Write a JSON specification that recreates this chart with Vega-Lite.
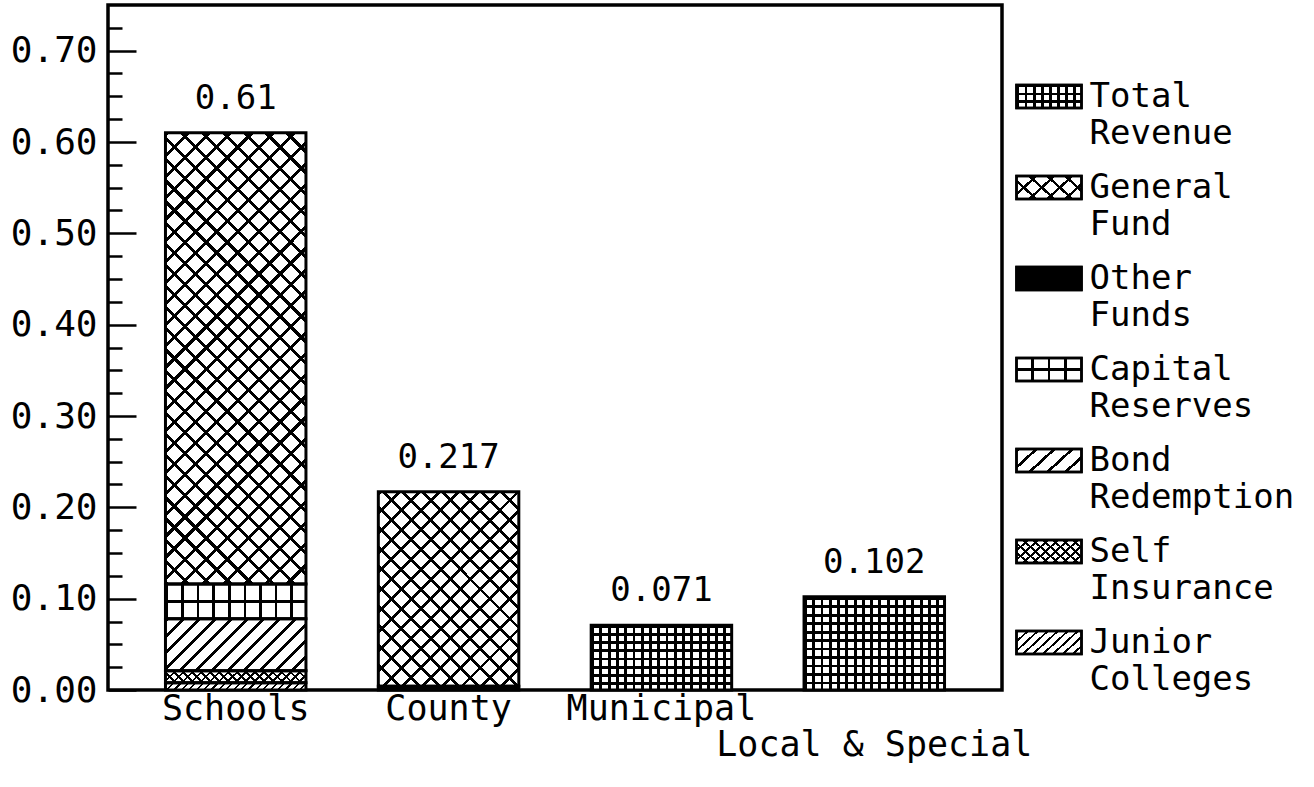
{
"$schema": "https://vega.github.io/schema/vega-lite/v6.json",
"autosize": {"type": "none"},
"padding": {"left": 108, "top": 5, "right": 312, "bottom": 97},
"width": 894,
"height": 685,
"background": "white",
"config": {"view": {"stroke": "#000", "strokeWidth": 3.5}, "font": "DejaVu Sans Mono"},
"data": {"values": [
 {"sector": "Schools", "category": "Junior Colleges", "value": 0.008},
 {"sector": "Schools", "category": "Self Insurance", "value": 0.013},
 {"sector": "Schools", "category": "Bond Redemption", "value": 0.057},
 {"sector": "Schools", "category": "Capital Reserves", "value": 0.038},
 {"sector": "Schools", "category": "General Fund", "value": 0.494},
 {"sector": "County", "category": "Other Funds", "value": 0.004},
 {"sector": "County", "category": "General Fund", "value": 0.213},
 {"sector": "Municipal", "category": "Total Revenue", "value": 0.071},
 {"sector": "Local & Special", "category": "Total Revenue", "value": 0.102}
]},
"transform": [
 {"calculate": "indexof(['Junior Colleges','Self Insurance','Bond Redemption','Capital Reserves','Other Funds','General Fund','Total Revenue'], datum.category)", "as": "ord"},
 {"calculate": "datum.category + ' (overlay)'", "as": "cat2"},
 {"stack": "value", "groupby": ["sector"], "sort": [{"field": "ord", "order": "ascending"}], "as": ["v0", "v1"]}
],
"encoding": {
 "x": {"field": "sector", "type": "nominal", "sort": ["Schools", "County", "Municipal", "Local & Special"],
   "scale": {"paddingInner": 0.34, "paddingOuter": 0.27},
   "axis": {"title": null, "ticks": false, "domain": false, "labelAngle": 0, "labelFont": "DejaVu Sans Mono", "labelFontSize": 35, "labelColor": "#000", "labelPadding": 1, "labelBaseline": "top", "labelLimit": 0, "labelOverlap": false, "labelLineHeight": 36,
     "labelExpr": "datum.label == 'Local & Special' ? ['', datum.label] : datum.label"}},
 "y": {"field": "v1", "type": "quantitative",
   "scale": {"domain": [0, 0.75], "nice": false, "zero": true},
   "axis": {"title": null, "domain": false, "grid": false,
     "values": [0,0.025,0.05,0.075,0.1,0.125,0.15,0.175,0.2,0.225,0.25,0.275,0.3,0.325,0.35,0.375,0.4,0.425,0.45,0.475,0.5,0.525,0.55,0.575,0.6,0.625,0.65,0.675,0.7,0.725],
     "tickColor": "#000", "tickWidth": 2.5,
     "tickSize": {"condition": {"test": "abs(datum.value*10 - round(datum.value*10)) < 0.001", "value": -28}, "value": -14},
     "labelExpr": "abs(datum.value*10 - round(datum.value*10)) < 0.001 ? format(datum.value, '.2f') : ''",
     "labelFont": "DejaVu Sans Mono", "labelFontSize": 36, "labelColor": "#000", "labelPadding": 39}}
},
"layer": [
 {
  "mark": {"type": "bar"},
  "encoding": {
   "y2": {"field": "v0"},
   "color": {
    "field": "category", "type": "nominal",
    "scale": {
     "domain": ["Total Revenue", "General Fund", "Other Funds", "Capital Reserves", "Bond Redemption", "Self Insurance", "Junior Colleges"],
     "range": [
      {"expr": "{gradient:'linear',x1:0,y1:0,x2:1,y2:0,stops:[{offset:0,color:'#000'},{offset:0.0438,color:'#000'},{offset:0.0438,color:'#fff'},{offset:0.125,color:'#fff'},{offset:0.125,color:'#000'},{offset:0.1688,color:'#000'},{offset:0.1688,color:'#fff'},{offset:0.25,color:'#fff'},{offset:0.25,color:'#000'},{offset:0.2938,color:'#000'},{offset:0.2938,color:'#fff'},{offset:0.375,color:'#fff'},{offset:0.375,color:'#000'},{offset:0.4188,color:'#000'},{offset:0.4188,color:'#fff'},{offset:0.5,color:'#fff'},{offset:0.5,color:'#000'},{offset:0.5438,color:'#000'},{offset:0.5438,color:'#fff'},{offset:0.625,color:'#fff'},{offset:0.625,color:'#000'},{offset:0.6688,color:'#000'},{offset:0.6688,color:'#fff'},{offset:0.75,color:'#fff'},{offset:0.75,color:'#000'},{offset:0.7938,color:'#000'},{offset:0.7938,color:'#fff'},{offset:0.875,color:'#fff'},{offset:0.875,color:'#000'},{offset:0.9188,color:'#000'},{offset:0.9188,color:'#fff'},{offset:1,color:'#fff'}]}"},
      {"expr": "{gradient:'linear',x1:0,y1:0,x2:1.2062,y2:0.4639,stops:[{offset:0,color:'#000'},{offset:0.04,color:'#000'},{offset:0.04,color:'#fff'},{offset:0.2,color:'#fff'},{offset:0.2,color:'#000'},{offset:0.24,color:'#000'},{offset:0.24,color:'#fff'},{offset:0.4,color:'#fff'},{offset:0.4,color:'#000'},{offset:0.44,color:'#000'},{offset:0.44,color:'#fff'},{offset:0.6,color:'#fff'},{offset:0.6,color:'#000'},{offset:0.64,color:'#000'},{offset:0.64,color:'#fff'},{offset:0.8,color:'#fff'},{offset:0.8,color:'#000'},{offset:0.84,color:'#000'},{offset:0.84,color:'#fff'},{offset:1,color:'#fff'}]}"},
      "#000",
      {"expr": "{gradient:'linear',x1:0,y1:0,x2:1,y2:0,stops:[{offset:0,color:'#fff'},{offset:0.23,color:'#fff'},{offset:0.23,color:'#000'},{offset:0.27,color:'#000'},{offset:0.27,color:'#fff'},{offset:0.48,color:'#fff'},{offset:0.48,color:'#000'},{offset:0.52,color:'#000'},{offset:0.52,color:'#fff'},{offset:0.73,color:'#fff'},{offset:0.73,color:'#000'},{offset:0.77,color:'#000'},{offset:0.77,color:'#fff'},{offset:1,color:'#fff'}]}"},
      {"expr": "{gradient:'linear',x1:0,y1:0,x2:1.2062,y2:0.4639,stops:[{offset:0,color:'#000'},{offset:0.044,color:'#000'},{offset:0.044,color:'#fff'},{offset:0.2,color:'#fff'},{offset:0.2,color:'#000'},{offset:0.244,color:'#000'},{offset:0.244,color:'#fff'},{offset:0.4,color:'#fff'},{offset:0.4,color:'#000'},{offset:0.444,color:'#000'},{offset:0.444,color:'#fff'},{offset:0.6,color:'#fff'},{offset:0.6,color:'#000'},{offset:0.644,color:'#000'},{offset:0.644,color:'#fff'},{offset:0.8,color:'#fff'},{offset:0.8,color:'#000'},{offset:0.844,color:'#000'},{offset:0.844,color:'#fff'},{offset:1,color:'#fff'}]}"},
      {"expr": "{gradient:'linear',x1:0,y1:0,x2:1.2062,y2:0.4639,stops:[{offset:0,color:'#000'},{offset:0.0333,color:'#000'},{offset:0.0333,color:'#fff'},{offset:0.1111,color:'#fff'},{offset:0.1111,color:'#000'},{offset:0.1444,color:'#000'},{offset:0.1444,color:'#fff'},{offset:0.2222,color:'#fff'},{offset:0.2222,color:'#000'},{offset:0.2556,color:'#000'},{offset:0.2556,color:'#fff'},{offset:0.3333,color:'#fff'},{offset:0.3333,color:'#000'},{offset:0.3667,color:'#000'},{offset:0.3667,color:'#fff'},{offset:0.4444,color:'#fff'},{offset:0.4444,color:'#000'},{offset:0.4778,color:'#000'},{offset:0.4778,color:'#fff'},{offset:0.5556,color:'#fff'},{offset:0.5556,color:'#000'},{offset:0.5889,color:'#000'},{offset:0.5889,color:'#fff'},{offset:0.6667,color:'#fff'},{offset:0.6667,color:'#000'},{offset:0.7,color:'#000'},{offset:0.7,color:'#fff'},{offset:0.7778,color:'#fff'},{offset:0.7778,color:'#000'},{offset:0.8111,color:'#000'},{offset:0.8111,color:'#fff'},{offset:0.8889,color:'#fff'},{offset:0.8889,color:'#000'},{offset:0.9222,color:'#000'},{offset:0.9222,color:'#fff'},{offset:1,color:'#fff'}]}"},
      {"expr": "{gradient:'linear',x1:0,y1:0,x2:1.2062,y2:0.4639,stops:[{offset:0,color:'#000'},{offset:0.0311,color:'#000'},{offset:0.0311,color:'#fff'},{offset:0.1111,color:'#fff'},{offset:0.1111,color:'#000'},{offset:0.1422,color:'#000'},{offset:0.1422,color:'#fff'},{offset:0.2222,color:'#fff'},{offset:0.2222,color:'#000'},{offset:0.2533,color:'#000'},{offset:0.2533,color:'#fff'},{offset:0.3333,color:'#fff'},{offset:0.3333,color:'#000'},{offset:0.3644,color:'#000'},{offset:0.3644,color:'#fff'},{offset:0.4444,color:'#fff'},{offset:0.4444,color:'#000'},{offset:0.4756,color:'#000'},{offset:0.4756,color:'#fff'},{offset:0.5556,color:'#fff'},{offset:0.5556,color:'#000'},{offset:0.5867,color:'#000'},{offset:0.5867,color:'#fff'},{offset:0.6667,color:'#fff'},{offset:0.6667,color:'#000'},{offset:0.6978,color:'#000'},{offset:0.6978,color:'#fff'},{offset:0.7778,color:'#fff'},{offset:0.7778,color:'#000'},{offset:0.8089,color:'#000'},{offset:0.8089,color:'#fff'},{offset:0.8889,color:'#fff'},{offset:0.8889,color:'#000'},{offset:0.92,color:'#000'},{offset:0.92,color:'#fff'},{offset:1,color:'#fff'}]}"}
     ]
    },
    "legend": {"orient": "none", "legendX": 914.5, "legendY": 65, "padding": 0, "title": null,
      "symbolType": "M-1.3,-0.46H1.3V0.46H-1.3Z", "symbolSize": 2500, "symbolStrokeColor": "#000", "symbolStrokeWidth": 2.5, "symbolOpacity": 1,
      "labelFont": "DejaVu Sans Mono", "labelFontSize": 34, "labelColor": "#000", "labelBaseline": "middle", "labelOffset": 14, "labelLimit": 0,
      "labelExpr": "split(datum.label, ' ')", "rowPadding": 10,
      "encode": {"labels": {"update": {"lineHeight": {"value": 37}}}}},
    "condition": [
     {"test": "datum.sector==='Schools' && datum.category==='General Fund'", "value": {"gradient": "linear", "x1": 0, "y1": 0, "x2": 0.3723, "y2": 1.1955, "stops": [
{"offset":0,"color":"#000"},{"offset":0.0071,"color":"#000"},{"offset":0.0071,"color":"#fff"},{"offset":0.0357,"color":"#fff"},
{"offset":0.0357,"color":"#000"},{"offset":0.0429,"color":"#000"},{"offset":0.0429,"color":"#fff"},{"offset":0.0714,"color":"#fff"},
{"offset":0.0714,"color":"#000"},{"offset":0.0786,"color":"#000"},{"offset":0.0786,"color":"#fff"},{"offset":0.1071,"color":"#fff"},
{"offset":0.1071,"color":"#000"},{"offset":0.1143,"color":"#000"},{"offset":0.1143,"color":"#fff"},{"offset":0.1429,"color":"#fff"},
{"offset":0.1429,"color":"#000"},{"offset":0.15,"color":"#000"},{"offset":0.15,"color":"#fff"},{"offset":0.1786,"color":"#fff"},
{"offset":0.1786,"color":"#000"},{"offset":0.1857,"color":"#000"},{"offset":0.1857,"color":"#fff"},{"offset":0.2143,"color":"#fff"},
{"offset":0.2143,"color":"#000"},{"offset":0.2214,"color":"#000"},{"offset":0.2214,"color":"#fff"},{"offset":0.25,"color":"#fff"},
{"offset":0.25,"color":"#000"},{"offset":0.2571,"color":"#000"},{"offset":0.2571,"color":"#fff"},{"offset":0.2857,"color":"#fff"},
{"offset":0.2857,"color":"#000"},{"offset":0.2929,"color":"#000"},{"offset":0.2929,"color":"#fff"},{"offset":0.3214,"color":"#fff"},
{"offset":0.3214,"color":"#000"},{"offset":0.3286,"color":"#000"},{"offset":0.3286,"color":"#fff"},{"offset":0.3571,"color":"#fff"},
{"offset":0.3571,"color":"#000"},{"offset":0.3643,"color":"#000"},{"offset":0.3643,"color":"#fff"},{"offset":0.3929,"color":"#fff"},
{"offset":0.3929,"color":"#000"},{"offset":0.4,"color":"#000"},{"offset":0.4,"color":"#fff"},{"offset":0.4286,"color":"#fff"},
{"offset":0.4286,"color":"#000"},{"offset":0.4357,"color":"#000"},{"offset":0.4357,"color":"#fff"},{"offset":0.4643,"color":"#fff"},
{"offset":0.4643,"color":"#000"},{"offset":0.4714,"color":"#000"},{"offset":0.4714,"color":"#fff"},{"offset":0.5,"color":"#fff"},
{"offset":0.5,"color":"#000"},{"offset":0.5071,"color":"#000"},{"offset":0.5071,"color":"#fff"},{"offset":0.5357,"color":"#fff"},
{"offset":0.5357,"color":"#000"},{"offset":0.5429,"color":"#000"},{"offset":0.5429,"color":"#fff"},{"offset":0.5714,"color":"#fff"},
{"offset":0.5714,"color":"#000"},{"offset":0.5786,"color":"#000"},{"offset":0.5786,"color":"#fff"},{"offset":0.6071,"color":"#fff"},
{"offset":0.6071,"color":"#000"},{"offset":0.6143,"color":"#000"},{"offset":0.6143,"color":"#fff"},{"offset":0.6429,"color":"#fff"},
{"offset":0.6429,"color":"#000"},{"offset":0.65,"color":"#000"},{"offset":0.65,"color":"#fff"},{"offset":0.6786,"color":"#fff"},
{"offset":0.6786,"color":"#000"},{"offset":0.6857,"color":"#000"},{"offset":0.6857,"color":"#fff"},{"offset":0.7143,"color":"#fff"},
{"offset":0.7143,"color":"#000"},{"offset":0.7214,"color":"#000"},{"offset":0.7214,"color":"#fff"},{"offset":0.75,"color":"#fff"},
{"offset":0.75,"color":"#000"},{"offset":0.7571,"color":"#000"},{"offset":0.7571,"color":"#fff"},{"offset":0.7857,"color":"#fff"},
{"offset":0.7857,"color":"#000"},{"offset":0.7929,"color":"#000"},{"offset":0.7929,"color":"#fff"},{"offset":0.8214,"color":"#fff"},
{"offset":0.8214,"color":"#000"},{"offset":0.8286,"color":"#000"},{"offset":0.8286,"color":"#fff"},{"offset":0.8571,"color":"#fff"},
{"offset":0.8571,"color":"#000"},{"offset":0.8643,"color":"#000"},{"offset":0.8643,"color":"#fff"},{"offset":0.8929,"color":"#fff"},
{"offset":0.8929,"color":"#000"},{"offset":0.9,"color":"#000"},{"offset":0.9,"color":"#fff"},{"offset":0.9286,"color":"#fff"},
{"offset":0.9286,"color":"#000"},{"offset":0.9357,"color":"#000"},{"offset":0.9357,"color":"#fff"},{"offset":0.9643,"color":"#fff"},
{"offset":0.9643,"color":"#000"},{"offset":0.9714,"color":"#000"},{"offset":0.9714,"color":"#fff"},{"offset":1,"color":"#fff"}]}},
     {"test": "datum.sector==='County' && datum.category==='General Fund'", "value": {"gradient": "linear", "x1": 0, "y1": 0, "x2": 0.8176, "y2": 1.1318, "stops": [
{"offset":0,"color":"#000"},{"offset":0.0118,"color":"#000"},{"offset":0.0118,"color":"#fff"},{"offset":0.0588,"color":"#fff"},
{"offset":0.0588,"color":"#000"},{"offset":0.0706,"color":"#000"},{"offset":0.0706,"color":"#fff"},{"offset":0.1176,"color":"#fff"},
{"offset":0.1176,"color":"#000"},{"offset":0.1294,"color":"#000"},{"offset":0.1294,"color":"#fff"},{"offset":0.1765,"color":"#fff"},
{"offset":0.1765,"color":"#000"},{"offset":0.1882,"color":"#000"},{"offset":0.1882,"color":"#fff"},{"offset":0.2353,"color":"#fff"},
{"offset":0.2353,"color":"#000"},{"offset":0.2471,"color":"#000"},{"offset":0.2471,"color":"#fff"},{"offset":0.2941,"color":"#fff"},
{"offset":0.2941,"color":"#000"},{"offset":0.3059,"color":"#000"},{"offset":0.3059,"color":"#fff"},{"offset":0.3529,"color":"#fff"},
{"offset":0.3529,"color":"#000"},{"offset":0.3647,"color":"#000"},{"offset":0.3647,"color":"#fff"},{"offset":0.4118,"color":"#fff"},
{"offset":0.4118,"color":"#000"},{"offset":0.4235,"color":"#000"},{"offset":0.4235,"color":"#fff"},{"offset":0.4706,"color":"#fff"},
{"offset":0.4706,"color":"#000"},{"offset":0.4824,"color":"#000"},{"offset":0.4824,"color":"#fff"},{"offset":0.5294,"color":"#fff"},
{"offset":0.5294,"color":"#000"},{"offset":0.5412,"color":"#000"},{"offset":0.5412,"color":"#fff"},{"offset":0.5882,"color":"#fff"},
{"offset":0.5882,"color":"#000"},{"offset":0.6,"color":"#000"},{"offset":0.6,"color":"#fff"},{"offset":0.6471,"color":"#fff"},
{"offset":0.6471,"color":"#000"},{"offset":0.6588,"color":"#000"},{"offset":0.6588,"color":"#fff"},{"offset":0.7059,"color":"#fff"},
{"offset":0.7059,"color":"#000"},{"offset":0.7176,"color":"#000"},{"offset":0.7176,"color":"#fff"},{"offset":0.7647,"color":"#fff"},
{"offset":0.7647,"color":"#000"},{"offset":0.7765,"color":"#000"},{"offset":0.7765,"color":"#fff"},{"offset":0.8235,"color":"#fff"},
{"offset":0.8235,"color":"#000"},{"offset":0.8353,"color":"#000"},{"offset":0.8353,"color":"#fff"},{"offset":0.8824,"color":"#fff"},
{"offset":0.8824,"color":"#000"},{"offset":0.8941,"color":"#000"},{"offset":0.8941,"color":"#fff"},{"offset":0.9412,"color":"#fff"},
{"offset":0.9412,"color":"#000"},{"offset":0.9529,"color":"#000"},{"offset":0.9529,"color":"#fff"},{"offset":1,"color":"#fff"}]}},
     {"test": "datum.category==='Total Revenue'", "value": {"gradient": "linear", "x1": 0, "y1": 0, "x2": 1, "y2": 0, "stops": [
{"offset":0,"color":"#000"},{"offset":0.0206,"color":"#000"},{"offset":0.0206,"color":"#fff"},{"offset":0.0588,"color":"#fff"},
{"offset":0.0588,"color":"#000"},{"offset":0.0794,"color":"#000"},{"offset":0.0794,"color":"#fff"},{"offset":0.1176,"color":"#fff"},
{"offset":0.1176,"color":"#000"},{"offset":0.1382,"color":"#000"},{"offset":0.1382,"color":"#fff"},{"offset":0.1765,"color":"#fff"},
{"offset":0.1765,"color":"#000"},{"offset":0.1971,"color":"#000"},{"offset":0.1971,"color":"#fff"},{"offset":0.2353,"color":"#fff"},
{"offset":0.2353,"color":"#000"},{"offset":0.2559,"color":"#000"},{"offset":0.2559,"color":"#fff"},{"offset":0.2941,"color":"#fff"},
{"offset":0.2941,"color":"#000"},{"offset":0.3147,"color":"#000"},{"offset":0.3147,"color":"#fff"},{"offset":0.3529,"color":"#fff"},
{"offset":0.3529,"color":"#000"},{"offset":0.3735,"color":"#000"},{"offset":0.3735,"color":"#fff"},{"offset":0.4118,"color":"#fff"},
{"offset":0.4118,"color":"#000"},{"offset":0.4324,"color":"#000"},{"offset":0.4324,"color":"#fff"},{"offset":0.4706,"color":"#fff"},
{"offset":0.4706,"color":"#000"},{"offset":0.4912,"color":"#000"},{"offset":0.4912,"color":"#fff"},{"offset":0.5294,"color":"#fff"},
{"offset":0.5294,"color":"#000"},{"offset":0.55,"color":"#000"},{"offset":0.55,"color":"#fff"},{"offset":0.5882,"color":"#fff"},
{"offset":0.5882,"color":"#000"},{"offset":0.6088,"color":"#000"},{"offset":0.6088,"color":"#fff"},{"offset":0.6471,"color":"#fff"},
{"offset":0.6471,"color":"#000"},{"offset":0.6676,"color":"#000"},{"offset":0.6676,"color":"#fff"},{"offset":0.7059,"color":"#fff"},
{"offset":0.7059,"color":"#000"},{"offset":0.7265,"color":"#000"},{"offset":0.7265,"color":"#fff"},{"offset":0.7647,"color":"#fff"},
{"offset":0.7647,"color":"#000"},{"offset":0.7853,"color":"#000"},{"offset":0.7853,"color":"#fff"},{"offset":0.8235,"color":"#fff"},
{"offset":0.8235,"color":"#000"},{"offset":0.8441,"color":"#000"},{"offset":0.8441,"color":"#fff"},{"offset":0.8824,"color":"#fff"},
{"offset":0.8824,"color":"#000"},{"offset":0.9029,"color":"#000"},{"offset":0.9029,"color":"#fff"},{"offset":0.9412,"color":"#fff"},
{"offset":0.9412,"color":"#000"},{"offset":0.9618,"color":"#000"},{"offset":0.9618,"color":"#fff"},{"offset":1,"color":"#fff"}]}},
     {"test": "datum.category==='Capital Reserves'", "value": {"gradient": "linear", "x1": 0, "y1": 0, "x2": 1, "y2": 0, "stops": [
{"offset":0,"color":"#000"},{"offset":0.0189,"color":"#000"},{"offset":0.0189,"color":"#fff"},{"offset":0.1111,"color":"#fff"},
{"offset":0.1111,"color":"#000"},{"offset":0.13,"color":"#000"},{"offset":0.13,"color":"#fff"},{"offset":0.2222,"color":"#fff"},
{"offset":0.2222,"color":"#000"},{"offset":0.2411,"color":"#000"},{"offset":0.2411,"color":"#fff"},{"offset":0.3333,"color":"#fff"},
{"offset":0.3333,"color":"#000"},{"offset":0.3522,"color":"#000"},{"offset":0.3522,"color":"#fff"},{"offset":0.4444,"color":"#fff"},
{"offset":0.4444,"color":"#000"},{"offset":0.4633,"color":"#000"},{"offset":0.4633,"color":"#fff"},{"offset":0.5556,"color":"#fff"},
{"offset":0.5556,"color":"#000"},{"offset":0.5745,"color":"#000"},{"offset":0.5745,"color":"#fff"},{"offset":0.6667,"color":"#fff"},
{"offset":0.6667,"color":"#000"},{"offset":0.6856,"color":"#000"},{"offset":0.6856,"color":"#fff"},{"offset":0.7778,"color":"#fff"},
{"offset":0.7778,"color":"#000"},{"offset":0.7967,"color":"#000"},{"offset":0.7967,"color":"#fff"},{"offset":0.8889,"color":"#fff"},
{"offset":0.8889,"color":"#000"},{"offset":0.9078,"color":"#000"},{"offset":0.9078,"color":"#fff"},{"offset":1,"color":"#fff"}]}},
     {"test": "datum.category==='Bond Redemption'", "value": {"gradient": "linear", "x1": 0, "y1": 0, "x2": 1.2051, "y2": 0.4469, "stops": [
{"offset":0,"color":"#000"},{"offset":0.0208,"color":"#000"},{"offset":0.0208,"color":"#fff"},{"offset":0.0833,"color":"#fff"},
{"offset":0.0833,"color":"#000"},{"offset":0.1042,"color":"#000"},{"offset":0.1042,"color":"#fff"},{"offset":0.1667,"color":"#fff"},
{"offset":0.1667,"color":"#000"},{"offset":0.1875,"color":"#000"},{"offset":0.1875,"color":"#fff"},{"offset":0.25,"color":"#fff"},
{"offset":0.25,"color":"#000"},{"offset":0.2708,"color":"#000"},{"offset":0.2708,"color":"#fff"},{"offset":0.3333,"color":"#fff"},
{"offset":0.3333,"color":"#000"},{"offset":0.3542,"color":"#000"},{"offset":0.3542,"color":"#fff"},{"offset":0.4167,"color":"#fff"},
{"offset":0.4167,"color":"#000"},{"offset":0.4375,"color":"#000"},{"offset":0.4375,"color":"#fff"},{"offset":0.5,"color":"#fff"},
{"offset":0.5,"color":"#000"},{"offset":0.5208,"color":"#000"},{"offset":0.5208,"color":"#fff"},{"offset":0.5833,"color":"#fff"},
{"offset":0.5833,"color":"#000"},{"offset":0.6042,"color":"#000"},{"offset":0.6042,"color":"#fff"},{"offset":0.6667,"color":"#fff"},
{"offset":0.6667,"color":"#000"},{"offset":0.6875,"color":"#000"},{"offset":0.6875,"color":"#fff"},{"offset":0.75,"color":"#fff"},
{"offset":0.75,"color":"#000"},{"offset":0.7708,"color":"#000"},{"offset":0.7708,"color":"#fff"},{"offset":0.8333,"color":"#fff"},
{"offset":0.8333,"color":"#000"},{"offset":0.8542,"color":"#000"},{"offset":0.8542,"color":"#fff"},{"offset":0.9167,"color":"#fff"},
{"offset":0.9167,"color":"#000"},{"offset":0.9375,"color":"#000"},{"offset":0.9375,"color":"#fff"},{"offset":1,"color":"#fff"}]}},
     {"test": "datum.category==='Self Insurance'", "value": {"gradient": "linear", "x1": 0, "y1": 0, "x2": 1.077, "y2": 0.0912, "stops": [
{"offset":0,"color":"#000"},{"offset":0.0176,"color":"#000"},{"offset":0.0176,"color":"#fff"},{"offset":0.0588,"color":"#fff"},
{"offset":0.0588,"color":"#000"},{"offset":0.0765,"color":"#000"},{"offset":0.0765,"color":"#fff"},{"offset":0.1176,"color":"#fff"},
{"offset":0.1176,"color":"#000"},{"offset":0.1353,"color":"#000"},{"offset":0.1353,"color":"#fff"},{"offset":0.1765,"color":"#fff"},
{"offset":0.1765,"color":"#000"},{"offset":0.1941,"color":"#000"},{"offset":0.1941,"color":"#fff"},{"offset":0.2353,"color":"#fff"},
{"offset":0.2353,"color":"#000"},{"offset":0.2529,"color":"#000"},{"offset":0.2529,"color":"#fff"},{"offset":0.2941,"color":"#fff"},
{"offset":0.2941,"color":"#000"},{"offset":0.3118,"color":"#000"},{"offset":0.3118,"color":"#fff"},{"offset":0.3529,"color":"#fff"},
{"offset":0.3529,"color":"#000"},{"offset":0.3706,"color":"#000"},{"offset":0.3706,"color":"#fff"},{"offset":0.4118,"color":"#fff"},
{"offset":0.4118,"color":"#000"},{"offset":0.4294,"color":"#000"},{"offset":0.4294,"color":"#fff"},{"offset":0.4706,"color":"#fff"},
{"offset":0.4706,"color":"#000"},{"offset":0.4882,"color":"#000"},{"offset":0.4882,"color":"#fff"},{"offset":0.5294,"color":"#fff"},
{"offset":0.5294,"color":"#000"},{"offset":0.5471,"color":"#000"},{"offset":0.5471,"color":"#fff"},{"offset":0.5882,"color":"#fff"},
{"offset":0.5882,"color":"#000"},{"offset":0.6059,"color":"#000"},{"offset":0.6059,"color":"#fff"},{"offset":0.6471,"color":"#fff"},
{"offset":0.6471,"color":"#000"},{"offset":0.6647,"color":"#000"},{"offset":0.6647,"color":"#fff"},{"offset":0.7059,"color":"#fff"},
{"offset":0.7059,"color":"#000"},{"offset":0.7235,"color":"#000"},{"offset":0.7235,"color":"#fff"},{"offset":0.7647,"color":"#fff"},
{"offset":0.7647,"color":"#000"},{"offset":0.7824,"color":"#000"},{"offset":0.7824,"color":"#fff"},{"offset":0.8235,"color":"#fff"},
{"offset":0.8235,"color":"#000"},{"offset":0.8412,"color":"#000"},{"offset":0.8412,"color":"#fff"},{"offset":0.8824,"color":"#fff"},
{"offset":0.8824,"color":"#000"},{"offset":0.9,"color":"#000"},{"offset":0.9,"color":"#fff"},{"offset":0.9412,"color":"#fff"},
{"offset":0.9412,"color":"#000"},{"offset":0.9588,"color":"#000"},{"offset":0.9588,"color":"#fff"},{"offset":1,"color":"#fff"}]}},
     {"test": "datum.category==='Junior Colleges'", "value": {"gradient": "linear", "x1": 0, "y1": 0, "x2": 1.0492, "y2": 0.0545, "stops": [
{"offset":0,"color":"#000"},{"offset":0.015,"color":"#000"},{"offset":0.015,"color":"#fff"},{"offset":0.05,"color":"#fff"},
{"offset":0.05,"color":"#000"},{"offset":0.065,"color":"#000"},{"offset":0.065,"color":"#fff"},{"offset":0.1,"color":"#fff"},
{"offset":0.1,"color":"#000"},{"offset":0.115,"color":"#000"},{"offset":0.115,"color":"#fff"},{"offset":0.15,"color":"#fff"},
{"offset":0.15,"color":"#000"},{"offset":0.165,"color":"#000"},{"offset":0.165,"color":"#fff"},{"offset":0.2,"color":"#fff"},
{"offset":0.2,"color":"#000"},{"offset":0.215,"color":"#000"},{"offset":0.215,"color":"#fff"},{"offset":0.25,"color":"#fff"},
{"offset":0.25,"color":"#000"},{"offset":0.265,"color":"#000"},{"offset":0.265,"color":"#fff"},{"offset":0.3,"color":"#fff"},
{"offset":0.3,"color":"#000"},{"offset":0.315,"color":"#000"},{"offset":0.315,"color":"#fff"},{"offset":0.35,"color":"#fff"},
{"offset":0.35,"color":"#000"},{"offset":0.365,"color":"#000"},{"offset":0.365,"color":"#fff"},{"offset":0.4,"color":"#fff"},
{"offset":0.4,"color":"#000"},{"offset":0.415,"color":"#000"},{"offset":0.415,"color":"#fff"},{"offset":0.45,"color":"#fff"},
{"offset":0.45,"color":"#000"},{"offset":0.465,"color":"#000"},{"offset":0.465,"color":"#fff"},{"offset":0.5,"color":"#fff"},
{"offset":0.5,"color":"#000"},{"offset":0.515,"color":"#000"},{"offset":0.515,"color":"#fff"},{"offset":0.55,"color":"#fff"},
{"offset":0.55,"color":"#000"},{"offset":0.565,"color":"#000"},{"offset":0.565,"color":"#fff"},{"offset":0.6,"color":"#fff"},
{"offset":0.6,"color":"#000"},{"offset":0.615,"color":"#000"},{"offset":0.615,"color":"#fff"},{"offset":0.65,"color":"#fff"},
{"offset":0.65,"color":"#000"},{"offset":0.665,"color":"#000"},{"offset":0.665,"color":"#fff"},{"offset":0.7,"color":"#fff"},
{"offset":0.7,"color":"#000"},{"offset":0.715,"color":"#000"},{"offset":0.715,"color":"#fff"},{"offset":0.75,"color":"#fff"},
{"offset":0.75,"color":"#000"},{"offset":0.765,"color":"#000"},{"offset":0.765,"color":"#fff"},{"offset":0.8,"color":"#fff"},
{"offset":0.8,"color":"#000"},{"offset":0.815,"color":"#000"},{"offset":0.815,"color":"#fff"},{"offset":0.85,"color":"#fff"},
{"offset":0.85,"color":"#000"},{"offset":0.865,"color":"#000"},{"offset":0.865,"color":"#fff"},{"offset":0.9,"color":"#fff"},
{"offset":0.9,"color":"#000"},{"offset":0.915,"color":"#000"},{"offset":0.915,"color":"#fff"},{"offset":0.95,"color":"#fff"},
{"offset":0.95,"color":"#000"},{"offset":0.965,"color":"#000"},{"offset":0.965,"color":"#fff"},{"offset":1,"color":"#fff"}]}}
    ]
   }
  }
 },
 {
  "mark": {"type": "bar", "stroke": "#000", "strokeWidth": 3},
  "encoding": {
   "y2": {"field": "v0"},
   "fill": {
    "field": "cat2", "type": "nominal",
    "scale": {
     "domain": ["Total Revenue (overlay)", "General Fund (overlay)", "Other Funds (overlay)", "Capital Reserves (overlay)", "Bond Redemption (overlay)", "Self Insurance (overlay)", "Junior Colleges (overlay)"],
     "range": [
      {"expr": "{gradient:'linear',x1:0,y1:0,x2:0,y2:1,stops:[{offset:0,color:'#000'},{offset:0.1,color:'#000'},{offset:0.1,color:'transparent'},{offset:0.3333,color:'transparent'},{offset:0.3333,color:'#000'},{offset:0.4333,color:'#000'},{offset:0.4333,color:'transparent'},{offset:0.6667,color:'transparent'},{offset:0.6667,color:'#000'},{offset:0.7667,color:'#000'},{offset:0.7667,color:'transparent'},{offset:1,color:'transparent'}]}"},
      {"expr": "{gradient:'linear',x1:0,y1:1,x2:1.2062,y2:0.5361,stops:[{offset:0,color:'#000'},{offset:0.04,color:'#000'},{offset:0.04,color:'transparent'},{offset:0.2,color:'transparent'},{offset:0.2,color:'#000'},{offset:0.24,color:'#000'},{offset:0.24,color:'transparent'},{offset:0.4,color:'transparent'},{offset:0.4,color:'#000'},{offset:0.44,color:'#000'},{offset:0.44,color:'transparent'},{offset:0.6,color:'transparent'},{offset:0.6,color:'#000'},{offset:0.64,color:'#000'},{offset:0.64,color:'transparent'},{offset:0.8,color:'transparent'},{offset:0.8,color:'#000'},{offset:0.84,color:'#000'},{offset:0.84,color:'transparent'},{offset:1,color:'transparent'}]}"},
      "transparent",
      {"expr": "{gradient:'linear',x1:0,y1:0,x2:0,y2:1,stops:[{offset:0,color:'transparent'},{offset:0.45,color:'transparent'},{offset:0.45,color:'#000'},{offset:0.55,color:'#000'},{offset:0.55,color:'transparent'},{offset:1,color:'transparent'}]}"},
      "transparent",
      {"expr": "{gradient:'linear',x1:0,y1:1,x2:1.2062,y2:0.5361,stops:[{offset:0,color:'#000'},{offset:0.0333,color:'#000'},{offset:0.0333,color:'transparent'},{offset:0.1111,color:'transparent'},{offset:0.1111,color:'#000'},{offset:0.1444,color:'#000'},{offset:0.1444,color:'transparent'},{offset:0.2222,color:'transparent'},{offset:0.2222,color:'#000'},{offset:0.2556,color:'#000'},{offset:0.2556,color:'transparent'},{offset:0.3333,color:'transparent'},{offset:0.3333,color:'#000'},{offset:0.3667,color:'#000'},{offset:0.3667,color:'transparent'},{offset:0.4444,color:'transparent'},{offset:0.4444,color:'#000'},{offset:0.4778,color:'#000'},{offset:0.4778,color:'transparent'},{offset:0.5556,color:'transparent'},{offset:0.5556,color:'#000'},{offset:0.5889,color:'#000'},{offset:0.5889,color:'transparent'},{offset:0.6667,color:'transparent'},{offset:0.6667,color:'#000'},{offset:0.7,color:'#000'},{offset:0.7,color:'transparent'},{offset:0.7778,color:'transparent'},{offset:0.7778,color:'#000'},{offset:0.8111,color:'#000'},{offset:0.8111,color:'transparent'},{offset:0.8889,color:'transparent'},{offset:0.8889,color:'#000'},{offset:0.9222,color:'#000'},{offset:0.9222,color:'transparent'},{offset:1,color:'transparent'}]}"},
      "transparent"
     ]
    },
    "legend": {"orient": "none", "legendX": 914.5, "legendY": 65, "padding": 0, "title": null,
      "symbolType": "M-1.3,-0.46H1.3V0.46H-1.3Z", "symbolSize": 2500, "symbolStrokeColor": "#000", "symbolStrokeWidth": 2.5, "symbolOpacity": 1,
      "labelFont": "DejaVu Sans Mono", "labelFontSize": 34, "labelColor": "#000", "labelOpacity": 0, "labelBaseline": "middle", "labelOffset": 14, "labelLimit": 0,
      "labelExpr": "split(replace(datum.label, ' (overlay)', ''), ' ')", "rowPadding": 10,
      "encode": {"labels": {"update": {"lineHeight": {"value": 37}}}}},
    "condition": [
     {"test": "datum.sector==='Schools' && datum.category==='General Fund'", "value": {"gradient": "linear", "x1": 0, "y1": 1, "x2": 0.3723, "y2": -0.1955, "stops": [
{"offset":0,"color":"#000"},{"offset":0.0071,"color":"#000"},{"offset":0.0071,"color":"transparent"},{"offset":0.0357,"color":"transparent"},
{"offset":0.0357,"color":"#000"},{"offset":0.0429,"color":"#000"},{"offset":0.0429,"color":"transparent"},{"offset":0.0714,"color":"transparent"},
{"offset":0.0714,"color":"#000"},{"offset":0.0786,"color":"#000"},{"offset":0.0786,"color":"transparent"},{"offset":0.1071,"color":"transparent"},
{"offset":0.1071,"color":"#000"},{"offset":0.1143,"color":"#000"},{"offset":0.1143,"color":"transparent"},{"offset":0.1429,"color":"transparent"},
{"offset":0.1429,"color":"#000"},{"offset":0.15,"color":"#000"},{"offset":0.15,"color":"transparent"},{"offset":0.1786,"color":"transparent"},
{"offset":0.1786,"color":"#000"},{"offset":0.1857,"color":"#000"},{"offset":0.1857,"color":"transparent"},{"offset":0.2143,"color":"transparent"},
{"offset":0.2143,"color":"#000"},{"offset":0.2214,"color":"#000"},{"offset":0.2214,"color":"transparent"},{"offset":0.25,"color":"transparent"},
{"offset":0.25,"color":"#000"},{"offset":0.2571,"color":"#000"},{"offset":0.2571,"color":"transparent"},{"offset":0.2857,"color":"transparent"},
{"offset":0.2857,"color":"#000"},{"offset":0.2929,"color":"#000"},{"offset":0.2929,"color":"transparent"},{"offset":0.3214,"color":"transparent"},
{"offset":0.3214,"color":"#000"},{"offset":0.3286,"color":"#000"},{"offset":0.3286,"color":"transparent"},{"offset":0.3571,"color":"transparent"},
{"offset":0.3571,"color":"#000"},{"offset":0.3643,"color":"#000"},{"offset":0.3643,"color":"transparent"},{"offset":0.3929,"color":"transparent"},
{"offset":0.3929,"color":"#000"},{"offset":0.4,"color":"#000"},{"offset":0.4,"color":"transparent"},{"offset":0.4286,"color":"transparent"},
{"offset":0.4286,"color":"#000"},{"offset":0.4357,"color":"#000"},{"offset":0.4357,"color":"transparent"},{"offset":0.4643,"color":"transparent"},
{"offset":0.4643,"color":"#000"},{"offset":0.4714,"color":"#000"},{"offset":0.4714,"color":"transparent"},{"offset":0.5,"color":"transparent"},
{"offset":0.5,"color":"#000"},{"offset":0.5071,"color":"#000"},{"offset":0.5071,"color":"transparent"},{"offset":0.5357,"color":"transparent"},
{"offset":0.5357,"color":"#000"},{"offset":0.5429,"color":"#000"},{"offset":0.5429,"color":"transparent"},{"offset":0.5714,"color":"transparent"},
{"offset":0.5714,"color":"#000"},{"offset":0.5786,"color":"#000"},{"offset":0.5786,"color":"transparent"},{"offset":0.6071,"color":"transparent"},
{"offset":0.6071,"color":"#000"},{"offset":0.6143,"color":"#000"},{"offset":0.6143,"color":"transparent"},{"offset":0.6429,"color":"transparent"},
{"offset":0.6429,"color":"#000"},{"offset":0.65,"color":"#000"},{"offset":0.65,"color":"transparent"},{"offset":0.6786,"color":"transparent"},
{"offset":0.6786,"color":"#000"},{"offset":0.6857,"color":"#000"},{"offset":0.6857,"color":"transparent"},{"offset":0.7143,"color":"transparent"},
{"offset":0.7143,"color":"#000"},{"offset":0.7214,"color":"#000"},{"offset":0.7214,"color":"transparent"},{"offset":0.75,"color":"transparent"},
{"offset":0.75,"color":"#000"},{"offset":0.7571,"color":"#000"},{"offset":0.7571,"color":"transparent"},{"offset":0.7857,"color":"transparent"},
{"offset":0.7857,"color":"#000"},{"offset":0.7929,"color":"#000"},{"offset":0.7929,"color":"transparent"},{"offset":0.8214,"color":"transparent"},
{"offset":0.8214,"color":"#000"},{"offset":0.8286,"color":"#000"},{"offset":0.8286,"color":"transparent"},{"offset":0.8571,"color":"transparent"},
{"offset":0.8571,"color":"#000"},{"offset":0.8643,"color":"#000"},{"offset":0.8643,"color":"transparent"},{"offset":0.8929,"color":"transparent"},
{"offset":0.8929,"color":"#000"},{"offset":0.9,"color":"#000"},{"offset":0.9,"color":"transparent"},{"offset":0.9286,"color":"transparent"},
{"offset":0.9286,"color":"#000"},{"offset":0.9357,"color":"#000"},{"offset":0.9357,"color":"transparent"},{"offset":0.9643,"color":"transparent"},
{"offset":0.9643,"color":"#000"},{"offset":0.9714,"color":"#000"},{"offset":0.9714,"color":"transparent"},{"offset":1,"color":"transparent"}]}},
     {"test": "datum.sector==='County' && datum.category==='General Fund'", "value": {"gradient": "linear", "x1": 0, "y1": 1, "x2": 0.8176, "y2": -0.1318, "stops": [
{"offset":0,"color":"#000"},{"offset":0.0118,"color":"#000"},{"offset":0.0118,"color":"transparent"},{"offset":0.0588,"color":"transparent"},
{"offset":0.0588,"color":"#000"},{"offset":0.0706,"color":"#000"},{"offset":0.0706,"color":"transparent"},{"offset":0.1176,"color":"transparent"},
{"offset":0.1176,"color":"#000"},{"offset":0.1294,"color":"#000"},{"offset":0.1294,"color":"transparent"},{"offset":0.1765,"color":"transparent"},
{"offset":0.1765,"color":"#000"},{"offset":0.1882,"color":"#000"},{"offset":0.1882,"color":"transparent"},{"offset":0.2353,"color":"transparent"},
{"offset":0.2353,"color":"#000"},{"offset":0.2471,"color":"#000"},{"offset":0.2471,"color":"transparent"},{"offset":0.2941,"color":"transparent"},
{"offset":0.2941,"color":"#000"},{"offset":0.3059,"color":"#000"},{"offset":0.3059,"color":"transparent"},{"offset":0.3529,"color":"transparent"},
{"offset":0.3529,"color":"#000"},{"offset":0.3647,"color":"#000"},{"offset":0.3647,"color":"transparent"},{"offset":0.4118,"color":"transparent"},
{"offset":0.4118,"color":"#000"},{"offset":0.4235,"color":"#000"},{"offset":0.4235,"color":"transparent"},{"offset":0.4706,"color":"transparent"},
{"offset":0.4706,"color":"#000"},{"offset":0.4824,"color":"#000"},{"offset":0.4824,"color":"transparent"},{"offset":0.5294,"color":"transparent"},
{"offset":0.5294,"color":"#000"},{"offset":0.5412,"color":"#000"},{"offset":0.5412,"color":"transparent"},{"offset":0.5882,"color":"transparent"},
{"offset":0.5882,"color":"#000"},{"offset":0.6,"color":"#000"},{"offset":0.6,"color":"transparent"},{"offset":0.6471,"color":"transparent"},
{"offset":0.6471,"color":"#000"},{"offset":0.6588,"color":"#000"},{"offset":0.6588,"color":"transparent"},{"offset":0.7059,"color":"transparent"},
{"offset":0.7059,"color":"#000"},{"offset":0.7176,"color":"#000"},{"offset":0.7176,"color":"transparent"},{"offset":0.7647,"color":"transparent"},
{"offset":0.7647,"color":"#000"},{"offset":0.7765,"color":"#000"},{"offset":0.7765,"color":"transparent"},{"offset":0.8235,"color":"transparent"},
{"offset":0.8235,"color":"#000"},{"offset":0.8353,"color":"#000"},{"offset":0.8353,"color":"transparent"},{"offset":0.8824,"color":"transparent"},
{"offset":0.8824,"color":"#000"},{"offset":0.8941,"color":"#000"},{"offset":0.8941,"color":"transparent"},{"offset":0.9412,"color":"transparent"},
{"offset":0.9412,"color":"#000"},{"offset":0.9529,"color":"#000"},{"offset":0.9529,"color":"transparent"},{"offset":1,"color":"transparent"}]}},
     {"test": "datum.sector==='Municipal'", "value": {"gradient": "linear", "x1": 0, "y1": 0, "x2": 0, "y2": 1, "stops": [
{"offset":0,"color":"#000"},{"offset":0.0438,"color":"#000"},{"offset":0.0438,"color":"transparent"},{"offset":0.125,"color":"transparent"},
{"offset":0.125,"color":"#000"},{"offset":0.1688,"color":"#000"},{"offset":0.1688,"color":"transparent"},{"offset":0.25,"color":"transparent"},
{"offset":0.25,"color":"#000"},{"offset":0.2938,"color":"#000"},{"offset":0.2938,"color":"transparent"},{"offset":0.375,"color":"transparent"},
{"offset":0.375,"color":"#000"},{"offset":0.4188,"color":"#000"},{"offset":0.4188,"color":"transparent"},{"offset":0.5,"color":"transparent"},
{"offset":0.5,"color":"#000"},{"offset":0.5438,"color":"#000"},{"offset":0.5438,"color":"transparent"},{"offset":0.625,"color":"transparent"},
{"offset":0.625,"color":"#000"},{"offset":0.6688,"color":"#000"},{"offset":0.6688,"color":"transparent"},{"offset":0.75,"color":"transparent"},
{"offset":0.75,"color":"#000"},{"offset":0.7938,"color":"#000"},{"offset":0.7938,"color":"transparent"},{"offset":0.875,"color":"transparent"},
{"offset":0.875,"color":"#000"},{"offset":0.9188,"color":"#000"},{"offset":0.9188,"color":"transparent"},{"offset":1,"color":"transparent"}]}},
     {"test": "datum.sector==='Local & Special'", "value": {"gradient": "linear", "x1": 0, "y1": 0, "x2": 0, "y2": 1, "stops": [
{"offset":0,"color":"#000"},{"offset":0.03,"color":"#000"},{"offset":0.03,"color":"transparent"},{"offset":0.0909,"color":"transparent"},
{"offset":0.0909,"color":"#000"},{"offset":0.1209,"color":"#000"},{"offset":0.1209,"color":"transparent"},{"offset":0.1818,"color":"transparent"},
{"offset":0.1818,"color":"#000"},{"offset":0.2118,"color":"#000"},{"offset":0.2118,"color":"transparent"},{"offset":0.2727,"color":"transparent"},
{"offset":0.2727,"color":"#000"},{"offset":0.3027,"color":"#000"},{"offset":0.3027,"color":"transparent"},{"offset":0.3636,"color":"transparent"},
{"offset":0.3636,"color":"#000"},{"offset":0.3936,"color":"#000"},{"offset":0.3936,"color":"transparent"},{"offset":0.4545,"color":"transparent"},
{"offset":0.4545,"color":"#000"},{"offset":0.4845,"color":"#000"},{"offset":0.4845,"color":"transparent"},{"offset":0.5455,"color":"transparent"},
{"offset":0.5455,"color":"#000"},{"offset":0.5755,"color":"#000"},{"offset":0.5755,"color":"transparent"},{"offset":0.6364,"color":"transparent"},
{"offset":0.6364,"color":"#000"},{"offset":0.6664,"color":"#000"},{"offset":0.6664,"color":"transparent"},{"offset":0.7273,"color":"transparent"},
{"offset":0.7273,"color":"#000"},{"offset":0.7573,"color":"#000"},{"offset":0.7573,"color":"transparent"},{"offset":0.8182,"color":"transparent"},
{"offset":0.8182,"color":"#000"},{"offset":0.8482,"color":"#000"},{"offset":0.8482,"color":"transparent"},{"offset":0.9091,"color":"transparent"},
{"offset":0.9091,"color":"#000"},{"offset":0.9391,"color":"#000"},{"offset":0.9391,"color":"transparent"},{"offset":1,"color":"transparent"}]}},
     {"test": "datum.category==='Capital Reserves'", "value": {"gradient": "linear", "x1": 0, "y1": 0, "x2": 0, "y2": 1, "stops": [
{"offset":0,"color":"transparent"},{"offset":0.46,"color":"transparent"},{"offset":0.46,"color":"#000"},{"offset":0.54,"color":"#000"},{"offset":0.54,"color":"transparent"},{"offset":1,"color":"transparent"}]}},
     {"test": "datum.category==='Self Insurance'", "value": {"gradient": "linear", "x1": 0, "y1": 1, "x2": 1.077, "y2": 0.9088, "stops": [
{"offset":0,"color":"#000"},{"offset":0.0176,"color":"#000"},{"offset":0.0176,"color":"transparent"},{"offset":0.0588,"color":"transparent"},
{"offset":0.0588,"color":"#000"},{"offset":0.0765,"color":"#000"},{"offset":0.0765,"color":"transparent"},{"offset":0.1176,"color":"transparent"},
{"offset":0.1176,"color":"#000"},{"offset":0.1353,"color":"#000"},{"offset":0.1353,"color":"transparent"},{"offset":0.1765,"color":"transparent"},
{"offset":0.1765,"color":"#000"},{"offset":0.1941,"color":"#000"},{"offset":0.1941,"color":"transparent"},{"offset":0.2353,"color":"transparent"},
{"offset":0.2353,"color":"#000"},{"offset":0.2529,"color":"#000"},{"offset":0.2529,"color":"transparent"},{"offset":0.2941,"color":"transparent"},
{"offset":0.2941,"color":"#000"},{"offset":0.3118,"color":"#000"},{"offset":0.3118,"color":"transparent"},{"offset":0.3529,"color":"transparent"},
{"offset":0.3529,"color":"#000"},{"offset":0.3706,"color":"#000"},{"offset":0.3706,"color":"transparent"},{"offset":0.4118,"color":"transparent"},
{"offset":0.4118,"color":"#000"},{"offset":0.4294,"color":"#000"},{"offset":0.4294,"color":"transparent"},{"offset":0.4706,"color":"transparent"},
{"offset":0.4706,"color":"#000"},{"offset":0.4882,"color":"#000"},{"offset":0.4882,"color":"transparent"},{"offset":0.5294,"color":"transparent"},
{"offset":0.5294,"color":"#000"},{"offset":0.5471,"color":"#000"},{"offset":0.5471,"color":"transparent"},{"offset":0.5882,"color":"transparent"},
{"offset":0.5882,"color":"#000"},{"offset":0.6059,"color":"#000"},{"offset":0.6059,"color":"transparent"},{"offset":0.6471,"color":"transparent"},
{"offset":0.6471,"color":"#000"},{"offset":0.6647,"color":"#000"},{"offset":0.6647,"color":"transparent"},{"offset":0.7059,"color":"transparent"},
{"offset":0.7059,"color":"#000"},{"offset":0.7235,"color":"#000"},{"offset":0.7235,"color":"transparent"},{"offset":0.7647,"color":"transparent"},
{"offset":0.7647,"color":"#000"},{"offset":0.7824,"color":"#000"},{"offset":0.7824,"color":"transparent"},{"offset":0.8235,"color":"transparent"},
{"offset":0.8235,"color":"#000"},{"offset":0.8412,"color":"#000"},{"offset":0.8412,"color":"transparent"},{"offset":0.8824,"color":"transparent"},
{"offset":0.8824,"color":"#000"},{"offset":0.9,"color":"#000"},{"offset":0.9,"color":"transparent"},{"offset":0.9412,"color":"transparent"},
{"offset":0.9412,"color":"#000"},{"offset":0.9588,"color":"#000"},{"offset":0.9588,"color":"transparent"},{"offset":1,"color":"transparent"}]}}
    ]
   }
  }
 },
 {
  "transform": [{"aggregate": [{"op": "max", "field": "v1", "as": "v1"}], "groupby": ["sector"]}],
  "mark": {"type": "text", "font": "DejaVu Sans Mono", "fontSize": 34, "color": "#000", "baseline": "alphabetic", "dy": -24},
  "encoding": {
   "text": {"field": "v1", "type": "quantitative", "format": ".3~f"}
  }
 }
]
}
